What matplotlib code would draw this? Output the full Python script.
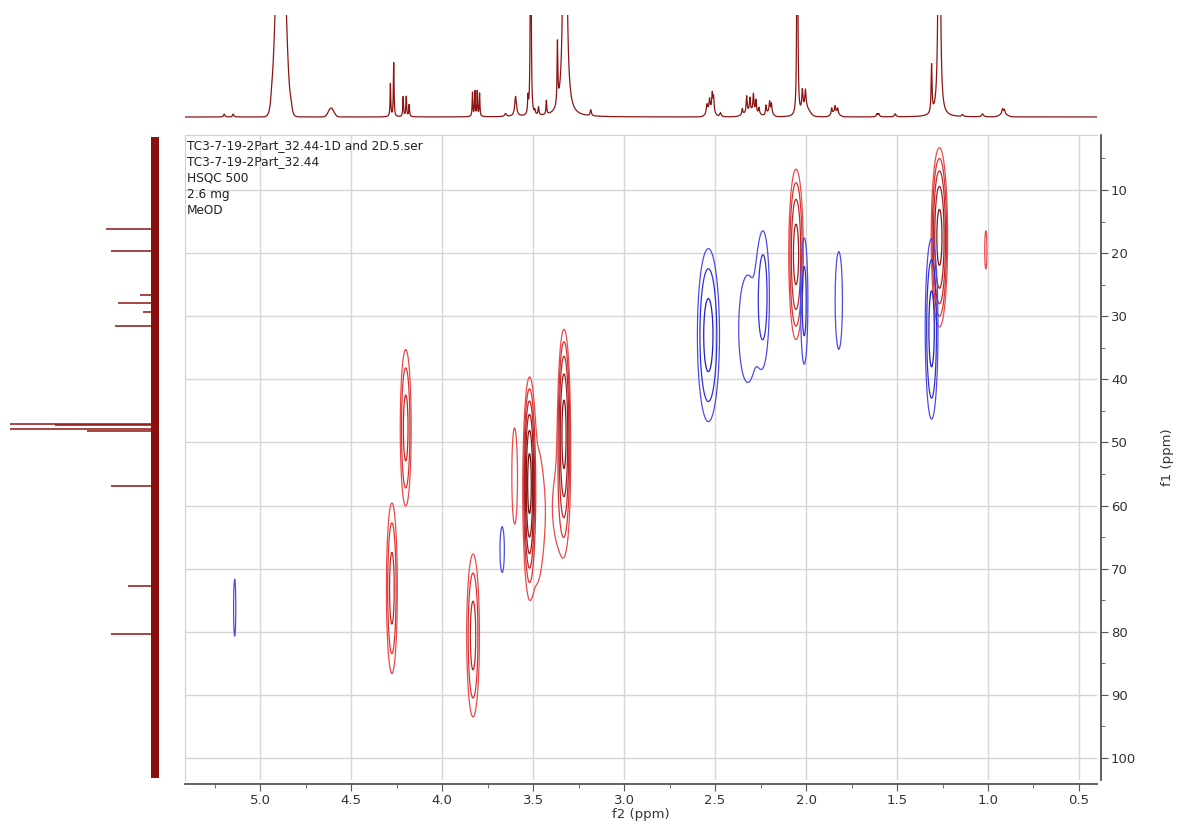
import numpy as np
import matplotlib
matplotlib.use("Agg")
import matplotlib.pyplot as plt
from matplotlib.ticker import MultipleLocator, FormatStrFormatter

# HSQC cross peaks: f2 (1H) centre, f1 (13C) centre, half-extent of the
# outermost contour along f2 / f1, number of contour levels, phase (+1 / -1)
peak_f2 = [1.267, 2.055, 1.012, 4.200, 4.276, 3.830, 3.520, 3.485, 3.603, 3.330, 3.345,
           5.140, 3.670, 2.537, 2.235, 2.320, 2.010, 1.820, 1.310]
peak_f1 = [17.5, 20.2, 19.5, 47.7, 73.1, 80.6, 56.5, 61.5, 55.0, 48.5, 60.0,
           76.2, 67.0, 33.0, 26.5, 32.0, 27.6, 27.5, 32.0]
peak_w2 = [0.045, 0.040, 0.006, 0.030, 0.030, 0.035, 0.033, 0.045, 0.012, 0.035, 0.030,
           0.006, 0.012, 0.060, 0.030, 0.050, 0.020, 0.020, 0.035]
peak_w1 = [14.2, 13.5, 3.0, 12.4, 13.5, 12.9, 16.0, 11.0, 6.2, 16.4, 6.0,
           4.5, 3.6, 13.7, 9.0, 8.5, 10.0, 7.7, 14.3]
peak_nlev = [5, 4, 1, 3, 3, 3, 6, 1, 1, 5, 1,
             1, 1, 3, 2, 1, 2, 1, 3]
peak_sign = [1, 1, 1, 1, 1, 1, 1, 1, 1, 1, 1,
             -1, -1, -1, -1, -1, -1, -1, -1]

# 1H projection: sharp lines (ppm, height, half width)
h_ppm = [5.197, 5.148, 4.935, 4.830, 4.284, 4.266, 4.214, 4.197, 4.181,
         3.833, 3.820, 3.807, 3.794, 3.651, 3.596, 3.528, 3.513, 3.490, 3.470,
         3.427, 3.366, 3.325, 3.183, 2.544, 2.530, 2.515, 2.508, 2.470,
         2.350, 2.326, 2.308, 2.289, 2.275, 2.258, 2.220, 2.200, 2.190,
         2.048, 2.020, 2.003, 1.859, 1.840, 1.826, 1.610, 1.600, 1.510,
         1.310, 1.268, 1.140, 1.030, 0.920, 0.910]
h_int = [3, 3, 6, 6, 33, 54, 20, 20, 12,
         24, 25, 25, 23, 3, 20, 16, 400, 4, 8,
         14, 62, 800, 6, 8, 10, 16, 14, 4,
         6, 16, 13, 17, 12, 6, 9, 10, 9,
         500, 20, 18, 6, 6, 5, 3, 3, 3,
         48, 600, 2, 3, 5, 4]
h_width = [0.004, 0.004, 0.006, 0.006, 0.0022, 0.0022, 0.0025, 0.0025, 0.0025,
           0.0022, 0.0022, 0.0022, 0.0022, 0.006, 0.006, 0.0025, 0.002, 0.003, 0.003,
           0.0025, 0.0025, 0.0057, 0.004, 0.004, 0.003, 0.003, 0.003, 0.005,
           0.003, 0.003, 0.003, 0.003, 0.003, 0.003, 0.003, 0.003, 0.003,
           0.002, 0.004, 0.004, 0.003, 0.003, 0.003, 0.004, 0.004, 0.005,
           0.003, 0.004, 0.005, 0.006, 0.004, 0.004]
# broad components (water, exchangeable and multiplet humps)
hb_ppm = [4.887, 4.610, 2.525, 2.300, 2.200, 2.000, 1.840, 0.915]
hb_int = [260, 9, 8, 6, 5, 8, 5, 3]
hb_sigma = [0.023, 0.015, 0.018, 0.035, 0.015, 0.020, 0.018, 0.020]

# 13C projection lines (ppm, height)
c_ppm = [16.1, 19.6, 26.7, 27.9, 29.3, 31.6, 47.05, 47.25, 47.95, 48.15, 56.9, 72.8, 80.4]
c_int = [49, 44, 15, 37, 12, 40, 300, 100, 300, 68, 44, 27, 44]

info_lines = ["TC3-7-19-2Part_32.44-1D and 2D.5.ser", "TC3-7-19-2Part_32.44",
              "HSQC 500", "2.6 mg", "MeOD"]

f2_lim = (5.413, 0.401)
f1_lim = (103.5, 1.28)

W, H = 1179, 825
fig = plt.figure(figsize=(W / 100, H / 100), dpi=100)
ax = fig.add_axes([185 / W, 45 / H, 912 / W, 645 / H])
ax_top = fig.add_axes([185 / W, (H - 125) / H, 912 / W, 110 / H])
ax_left = fig.add_axes([10 / W, 45 / H, 150 / W, 645 / H])

# ---- 2D contour map ----
f2 = np.arange(0.38, 5.45, 0.002)
f1 = np.arange(1.0, 104.0, 0.1)
pos = np.zeros((f1.size, f2.size))
neg = np.zeros((f1.size, f2.size))
for x0, y0, a, b, n, s in zip(peak_f2, peak_f1, peak_w2, peak_w1, peak_nlev, peak_sign):
    amp = 2 ** (n - 1) * 1.35
    k = np.sqrt(2 * np.log(amp))
    gx = np.exp(-0.5 * ((f2 - x0) / (a / k)) ** 2)
    gy = np.exp(-0.5 * ((f1 - y0) / (b / k)) ** 2)
    if s > 0:
        pos += amp * np.outer(gy, gx)
    else:
        neg += amp * np.outer(gy, gx)

levels = [1, 2, 4, 8, 16, 32]
pos_colors = ["#ec4a4a", "#d93434", "#c02828", "#a11e1e", "#861616", "#6c1010"]
neg_colors = ["#4c4ce6", "#3030d6", "#1f1fbd", "#16169c", "#10107c", "#0a0a60"]
ax.contour(f2, f1, pos, levels=levels, colors=pos_colors, linewidths=0.9)
ax.contour(f2, f1, neg, levels=levels, colors=neg_colors, linewidths=0.9)

ax.set_xlim(*f2_lim)
ax.set_ylim(*f1_lim)
ax.xaxis.set_major_locator(MultipleLocator(0.5))
ax.xaxis.set_minor_locator(MultipleLocator(0.25))
ax.xaxis.set_major_formatter(FormatStrFormatter("%.1f"))
ax.yaxis.set_major_locator(MultipleLocator(10))
ax.yaxis.set_minor_locator(MultipleLocator(5))
ax.yaxis.tick_right()
ax.yaxis.set_label_position("right")
ax.grid(True, which="major", color="#d6d6d6", lw=1.0)
ax.set_axisbelow(True)
for side in ("top", "left"):
    ax.spines[side].set_color("#cfcfcf")
for side in ("bottom", "right"):
    ax.spines[side].set_color("#555555")
    ax.spines[side].set_linewidth(1.3)
    ax.spines[side].set_position(("outward", 3))
ax.tick_params(which="both", direction="out", color="#555555", labelcolor="#333333",
               labelsize=9.5, pad=2)
ax.tick_params(which="major", length=5)
ax.tick_params(which="minor", length=3)
ax.set_xlabel("f2 (ppm)", fontsize=9.5, color="#333333", labelpad=1)
ax.set_ylabel("f1 (ppm)", fontsize=9.5, color="#333333", labelpad=18)

ax.text(0.002, 0.993, "\n".join(info_lines), transform=ax.transAxes, va="top",
        ha="left", fontsize=8.7, color="#222222", linespacing=1.3)

# ---- 1H projection on top ----
x1 = np.linspace(0.38, 5.45, 15000)
spec = np.zeros_like(x1)
for p, h, w in zip(h_ppm, h_int, h_width):
    spec += h / (1 + ((x1 - p) / w) ** 2)
for p, h, s in zip(hb_ppm, hb_int, hb_sigma):
    spec += h * np.exp(-0.5 * ((x1 - p) / s) ** 2)
ax_top.plot(x1, spec, color="#8e1414", lw=0.9)
ax_top.set_xlim(*f2_lim)
ax_top.set_ylim(-8, 102)
ax_top.axis("off")

# ---- 13C projection on the left ----
ax_left.fill_betweenx([1.6, 103.2], -4, 4, color="#8b0f0f", lw=0)
ax_left.hlines(c_ppm, 0, c_int, color="#8e1414", lw=1.1)
ax_left.set_xlim(145, -5)
ax_left.set_ylim(*f1_lim)
ax_left.axis("off")

fig.savefig("out.png", dpi=100)
